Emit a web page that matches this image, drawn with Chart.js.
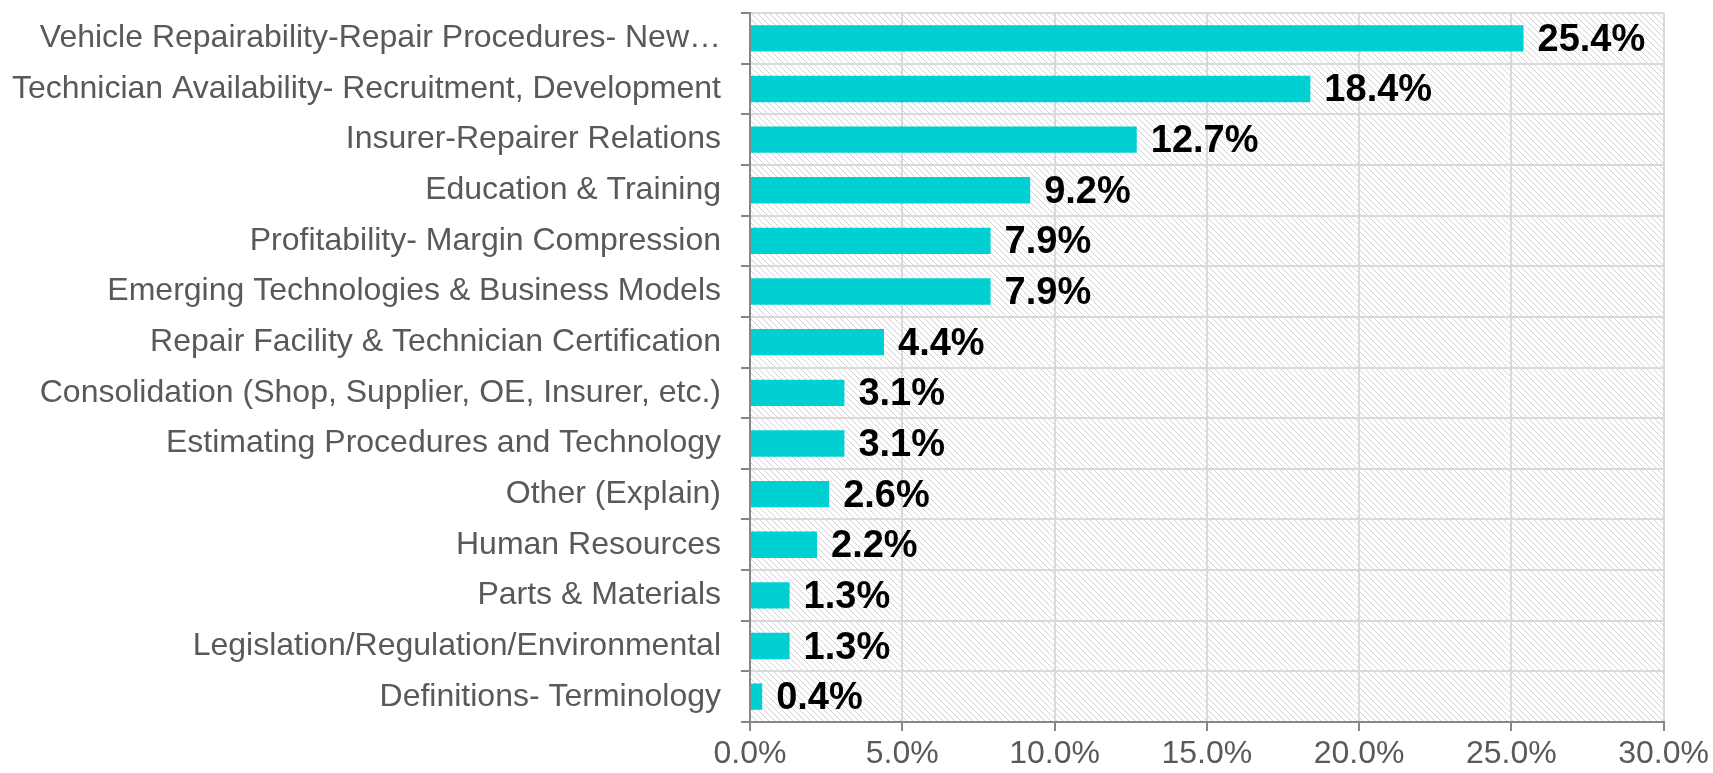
<!DOCTYPE html>
<html>
<head>
<meta charset="utf-8">
<script src="https://cdn.jsdelivr.net/npm/chart.js@4.4.1/dist/chart.umd.min.js"></script>
<style>
  html, body { margin: 0; padding: 0; background: #fff; }
  #wrap { width: 1713px; height: 773px; position: relative; }
</style>
</head>
<body>
<div id="wrap"><canvas id="issuesChart"></canvas></div>
<script>
// categorieen en waarden (aflezen van de afbeelding)
const categories = [
    'Vehicle Repairability-Repair Procedures- New…',
    'Technician Availability- Recruitment, Development',
    'Insurer-Repairer Relations',
    'Education & Training',
    'Profitability- Margin Compression',
    'Emerging Technologies & Business Models',
    'Repair Facility & Technician Certification',
    'Consolidation (Shop, Supplier, OE, Insurer, etc.)',
    'Estimating Procedures and Technology',
    'Other (Explain)',
    'Human Resources',
    'Parts & Materials',
    'Legislation/Regulation/Environmental',
    'Definitions- Terminology'
];
const shares = [25.4, 18.4, 12.7, 9.2, 7.9, 7.9, 4.4, 3.1, 3.1, 2.6, 2.2, 1.3, 1.3, 0.4];
const xTicks = [0, 5, 10, 15, 20, 25, 30];

// diagonaal arceerpatroon achter het plotgebied
function makeHatch(ctx) {
    const p = document.createElement('canvas');
    p.width = 6; p.height = 6;
    const c = p.getContext('2d');
    c.fillStyle = '#ffffff';
    c.fillRect(0, 0, 6, 6);
    c.strokeStyle = '#d2d2d2';
    c.lineWidth = 1;
    c.beginPath();
    c.moveTo(0, 0); c.lineTo(6, 6);
    c.moveTo(-3, 3); c.lineTo(3, 9);
    c.moveTo(3, -3); c.lineTo(9, 3);
    c.stroke();
    return ctx.createPattern(p, 'repeat');
}

const hatchBackground = {
    id: 'hatchBackground',
    beforeDraw(chart) {
        const { ctx, chartArea: a } = chart;
        ctx.save();
        ctx.fillStyle = makeHatch(ctx);
        ctx.fillRect(a.left, a.top, a.right - a.left, a.bottom - a.top);
        ctx.restore();
    }
};

// waardelabels rechts van elke balk
const valueLabels = {
    id: 'valueLabels',
    afterDatasetsDraw(chart) {
        const { ctx } = chart;
        const meta = chart.getDatasetMeta(0);
        ctx.save();
        ctx.font = 'bold 38px "Liberation Sans", Arial, sans-serif';
        ctx.fillStyle = '#000000';
        ctx.textAlign = 'left';
        ctx.textBaseline = 'middle';
        meta.data.forEach((bar, i) => {
            ctx.fillText(shares[i].toFixed(1) + '%', bar.x + 14, bar.y + 2);
        });
        ctx.restore();
    }
};

const ctx = document.getElementById('issuesChart').getContext('2d');
new Chart(ctx, {
    type: 'bar',
    data: {
        labels: categories,
        datasets: [{
            data: shares,
            backgroundColor: '#00d0d2',
            borderWidth: 0,
            categoryPercentage: 1,
            barPercentage: 0.52
        }]
    },
    options: {
        indexAxis: 'y',
        responsive: true,
        maintainAspectRatio: false,
        animation: false,
        layout: { padding: { top: 13, right: 47, left: 0, bottom: 0 } },
        plugins: { legend: { display: false }, tooltip: { enabled: false } },
        scales: {
            x: {
                min: 0,
                max: 30,
                afterBuildTicks: (scale) => { scale.ticks = xTicks.map(v => ({ value: v })); },
                afterFit: (scale) => { scale.height = 51; },
                ticks: {
                    callback: (v) => v.toFixed(1) + '%',
                    color: '#595959',
                    font: { family: '"Liberation Sans", Arial, sans-serif', size: 32 },
                    padding: 4,
                    maxRotation: 0
                },
                grid: { color: '#d9d9d9', lineWidth: 2, tickColor: '#868686', tickLength: 9 },
                border: { color: '#868686', width: 2 }
            },
            y: {
                afterFit: (scale) => {
                    scale.width = 750;
                    scale.paddingTop = 0;
                    scale.paddingBottom = 0;
                },
                ticks: {
                    color: '#595959',
                    font: { family: '"Liberation Sans", Arial, sans-serif', size: 32 },
                    padding: 20,
                    autoSkip: false
                },
                grid: { color: '#d9d9d9', lineWidth: 2, tickColor: '#868686', tickLength: 9, offset: true },
                border: { color: '#868686', width: 2 }
            }
        }
    },
    plugins: [hatchBackground, valueLabels]
});
</script>
</body>
</html>
